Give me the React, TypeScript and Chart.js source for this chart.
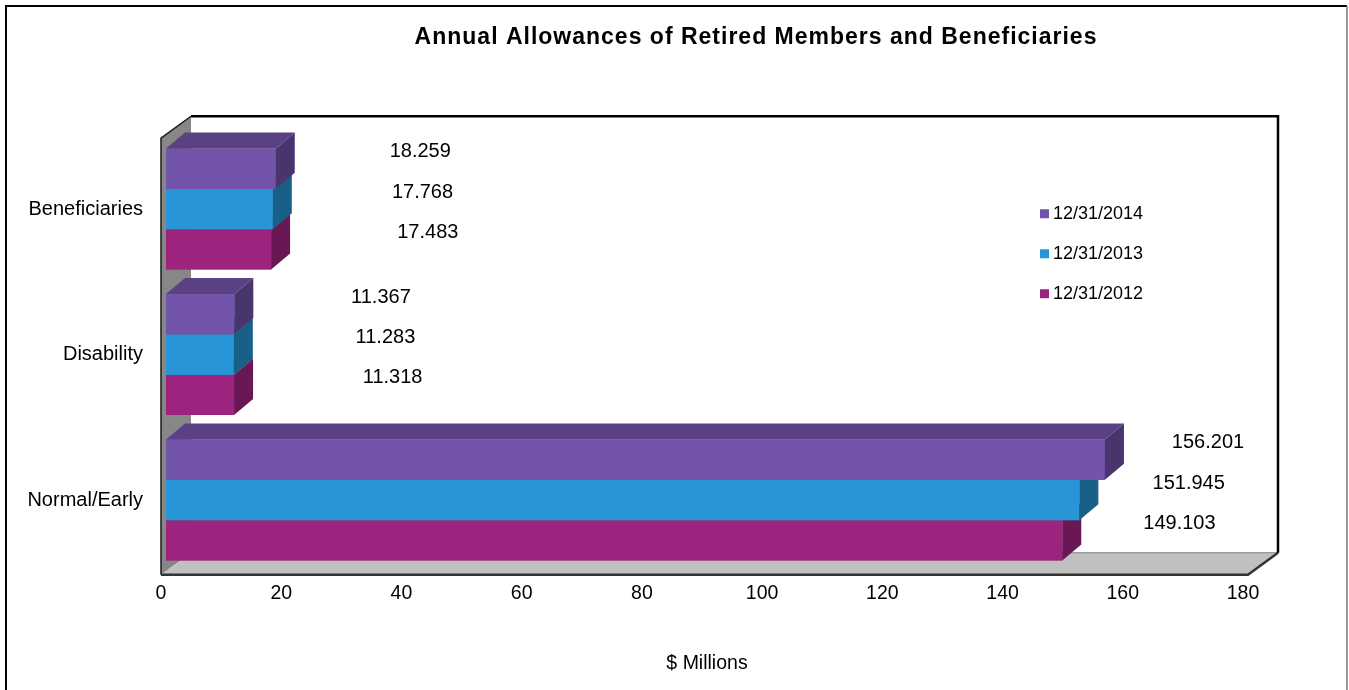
import React, { useEffect, useRef } from "react";
import { Chart, registerables } from "chart.js";

Chart.register(...registerables);

// ---- data ----
const chartTitle = "Annual Allowances of Retired Members and Beneficiaries";
const axisTitle = "$ Millions";
const categories = ["Beneficiaries", "Disability", "Normal/Early"];
const seriesLabels = ["12/31/2014", "12/31/2013", "12/31/2012"];
const values2014 = [18.259, 11.367, 156.201];
const values2013 = [17.768, 11.283, 151.945];
const values2012 = [17.483, 11.318, 149.103];
const xMin = 0;
const xMax = 180;
const xStep = 20;

// ---- styles ----
const FONT = '"Liberation Sans", Arial, Helvetica, sans-serif';
const frontColors = ["#7254AA", "#2896D6", "#9C247E"];
const topColors = ["#594184", "#1F77AA", "#7A1C63"];
const sideColors = ["#49356E", "#196089", "#691755"];
const BAR_DX = 19;
const BAR_DY = 16;
const WALL_DX = 30;
const WALL_DY = 22;

const fmt = (v: number) => v.toFixed(3);

const wallsPlugin = {
  id: "walls3d",
  beforeDatasetsDraw(chart: any) {
    const { ctx, chartArea } = chart;
    const fx0 = chartArea.left - 5;
    const fx1 = chartArea.right;
    const fyTop = chartArea.top + 2;
    const fyBot = chartArea.bottom + 2;
    ctx.save();
    // left wall
    ctx.beginPath();
    ctx.moveTo(fx0, fyTop);
    ctx.lineTo(fx0 + WALL_DX, fyTop - WALL_DY);
    ctx.lineTo(fx0 + WALL_DX, fyBot - WALL_DY);
    ctx.lineTo(fx0, fyBot);
    ctx.closePath();
    ctx.fillStyle = "#878787";
    ctx.fill();
    ctx.strokeStyle = "#1a1a1a";
    ctx.lineWidth = 1.5;
    ctx.beginPath();
    ctx.moveTo(fx0, fyBot);
    ctx.lineTo(fx0, fyTop);
    ctx.lineTo(fx0 + WALL_DX, fyTop - WALL_DY);
    ctx.stroke();
    // floor
    ctx.beginPath();
    ctx.moveTo(fx0, fyBot);
    ctx.lineTo(fx1, fyBot);
    ctx.lineTo(fx1 + WALL_DX, fyBot - WALL_DY);
    ctx.lineTo(fx0 + WALL_DX, fyBot - WALL_DY);
    ctx.closePath();
    ctx.fillStyle = "#c0c0c0";
    ctx.fill();
    ctx.strokeStyle = "#808080";
    ctx.lineWidth = 1;
    ctx.beginPath();
    ctx.moveTo(fx0 + WALL_DX, fyBot - WALL_DY);
    ctx.lineTo(fx1 + WALL_DX, fyBot - WALL_DY);
    ctx.stroke();
    ctx.strokeStyle = "#333333";
    ctx.lineWidth = 2.5;
    ctx.beginPath();
    ctx.moveTo(fx0, fyBot);
    ctx.lineTo(fx1, fyBot);
    ctx.lineTo(fx1 + WALL_DX, fyBot - WALL_DY);
    ctx.stroke();
    // back wall border (top & right)
    ctx.strokeStyle = "#000000";
    ctx.lineWidth = 2.5;
    ctx.beginPath();
    ctx.moveTo(fx0 + WALL_DX, fyTop - WALL_DY);
    ctx.lineTo(fx1 + WALL_DX, fyTop - WALL_DY);
    ctx.lineTo(fx1 + WALL_DX, fyBot - WALL_DY);
    ctx.stroke();
    ctx.restore();
  },
};

const barFacesPlugin = {
  id: "barFaces3d",
  afterDatasetDraw(chart: any, args: any) {
    const { ctx } = chart;
    const i = args.index;
    ctx.save();
    args.meta.data.forEach((el: any) => {
      const { x, y, base, height } = el.getProps(["x", "y", "base", "height"], true);
      const top = y - height / 2;
      const bot = y + height / 2;
      // front face (re-fill to keep it solid)
      ctx.fillStyle = frontColors[i];
      ctx.fillRect(base, top, x - base, height);
      // top face
      ctx.beginPath();
      ctx.moveTo(base, top);
      ctx.lineTo(x, top);
      ctx.lineTo(x + BAR_DX, top - BAR_DY);
      ctx.lineTo(base + BAR_DX, top - BAR_DY);
      ctx.closePath();
      ctx.fillStyle = topColors[i];
      ctx.fill();
      // side face
      ctx.beginPath();
      ctx.moveTo(x, top);
      ctx.lineTo(x + BAR_DX, top - BAR_DY);
      ctx.lineTo(x + BAR_DX, bot - BAR_DY);
      ctx.lineTo(x, bot);
      ctx.closePath();
      ctx.fillStyle = sideColors[i];
      ctx.fill();
    });
    ctx.restore();
  },
};

const labelsPlugin = {
  id: "valueLabels",
  afterDatasetsDraw(chart: any) {
    const { ctx, chartArea } = chart;
    ctx.save();
    ctx.font = `20px ${FONT}`;
    ctx.fillStyle = "#000";
    ctx.textAlign = "center";
    ctx.textBaseline = "middle";
    const extra = [0, 5, 12];
    chart.data.datasets.forEach((ds: any, di: number) => {
      const meta = chart.getDatasetMeta(di);
      meta.data.forEach((el: any, j: number) => {
        const { x, y } = el.getProps(["x", "y"], true);
        const lx = x + 150 - (x - chartArea.left) * 0.05 + extra[di];
        ctx.fillText(fmt(ds.data[j]), lx, y - 17);
      });
    });
    ctx.restore();
  },
};

const decorPlugin = {
  id: "decor",
  afterDraw(chart: any) {
    const { ctx, chartArea } = chart;
    ctx.save();
    // title
    ctx.font = `bold 23px ${FONT}`;
    (ctx as any).letterSpacing = "1px";
    ctx.fillStyle = "#000";
    ctx.textAlign = "center";
    ctx.textBaseline = "middle";
    ctx.fillText(chartTitle, 756, 38);
    (ctx as any).letterSpacing = "0px";
    // legend
    ctx.font = `18px ${FONT}`;
    ctx.textAlign = "left";
    const lx = chartArea.right - 208;
    const ly = chartArea.top + 78;
    chart.data.datasets.forEach((ds: any, di: number) => {
      const yy = ly + di * 40;
      ctx.fillStyle = ds.backgroundColor;
      ctx.fillRect(lx, yy - 5, 9, 9);
      ctx.fillStyle = "#000";
      ctx.fillText(ds.label, lx + 13, yy);
    });
    // outer border
    ctx.strokeStyle = "#000";
    ctx.lineWidth = 2;
    ctx.beginPath();
    ctx.moveTo(6, 700);
    ctx.lineTo(6, 6);
    ctx.lineTo(1347, 6);
    ctx.stroke();
    ctx.strokeStyle = "#777";
    ctx.lineWidth = 1.5;
    ctx.beginPath();
    ctx.moveTo(1347, 6);
    ctx.lineTo(1347, 700);
    ctx.stroke();
    ctx.restore();
  },
};

export default function App() {
  const ref = useRef<HTMLCanvasElement | null>(null);
  useEffect(() => {
    if (!ref.current) return;
    const seriesValues = [values2014, values2013, values2012];
    const chart = new Chart(ref.current, {
      type: "bar",
      data: {
        labels: categories,
        datasets: seriesLabels.map((label, i) => ({
          label,
          data: seriesValues[i],
          backgroundColor: frontColors[i],
          borderWidth: 0,
          categoryPercentage: 0.83,
          barPercentage: 1.0,
          clip: false as any,
        })),
      },
      options: {
        animation: false,
        responsive: false,
        indexAxis: "y",
        layout: { padding: { left: 0, right: 101, top: 136.25, bottom: 0 } },
        plugins: {
          legend: { display: false },
          title: { display: false },
          tooltip: { enabled: false },
        },
        scales: {
          x: {
            min: xMin,
            max: xMax,
            ticks: {
              stepSize: xStep,
              labelOffset: -5,
              padding: 9,
              color: "#000",
              font: { family: FONT, size: 19.5 },
            },
            grid: { display: false, drawTicks: false },
            border: { display: false },
            title: {
              display: true,
              text: axisTitle,
              color: "#000",
              font: { family: FONT, size: 19.5 },
              padding: { top: 0, bottom: 14.3 },
            },
            afterFit: (s: any) => {
              s.height = 117.25;
            },
          },
          y: {
            ticks: {
              padding: 23,
              color: "#000",
              font: { family: FONT, size: 20 },
            },
            grid: { display: false, drawTicks: false },
            border: { display: false },
            afterFit: (s: any) => {
              s.width = 166;
            },
          },
        },
      },
      plugins: [wallsPlugin, barFacesPlugin, labelsPlugin, decorPlugin],
    } as any);
    return () => chart.destroy();
  }, []);
  return (
    <div style={{ position: "fixed", left: 0, top: 0, width: 1349, height: 690, background: "#fff" }}>
      <canvas ref={ref} width={1349} height={690} style={{ display: "block" }} />
    </div>
  );
}
